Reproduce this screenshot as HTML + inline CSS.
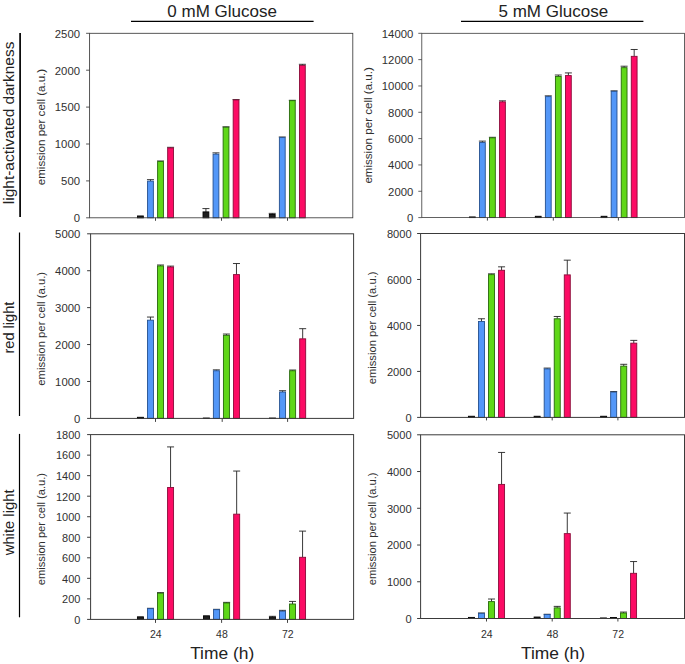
<!DOCTYPE html><html><head><meta charset="utf-8"><style>html,body{margin:0;padding:0;background:#fff}svg{display:block}</style></head><body><svg width="685" height="664" viewBox="0 0 685 664" font-family="Liberation Sans, sans-serif"><rect width="685" height="664" fill="#fff"/><rect x="137.53" y="215.96" width="5.8" height="1.85" fill="#1e1e1e" stroke="#000" stroke-width="0.9"/><path d="M150.47 181.12V179.65M146.97 179.65H153.97" stroke="#222" stroke-width="0.9" fill="none"/><rect x="147.57" y="181.12" width="5.8" height="36.68" fill="#5397f8" stroke="#24508f" stroke-width="0.9"/><path d="M160.53 161.56V160.97M157.03 160.97H164.03" stroke="#222" stroke-width="0.9" fill="none"/><rect x="157.62" y="161.56" width="5.8" height="56.24" fill="#5fd718" stroke="#27680c" stroke-width="0.9"/><path d="M170.57 147.91V147.32M167.07 147.32H174.07" stroke="#222" stroke-width="0.9" fill="none"/><rect x="167.67" y="147.91" width="5.8" height="69.89" fill="#fc0b64" stroke="#8a0a38" stroke-width="0.9"/><path d="M205.93 211.90V208.58M202.43 208.58H209.43" stroke="#222" stroke-width="0.9" fill="none"/><rect x="203.03" y="211.90" width="5.8" height="5.90" fill="#1e1e1e" stroke="#000" stroke-width="0.9"/><path d="M215.97 154.18V152.86M212.47 152.86H219.47" stroke="#222" stroke-width="0.9" fill="none"/><rect x="213.07" y="154.18" width="5.8" height="63.62" fill="#5397f8" stroke="#24508f" stroke-width="0.9"/><path d="M226.03 127.25V126.80M222.53 126.80H229.53" stroke="#222" stroke-width="0.9" fill="none"/><rect x="223.12" y="127.25" width="5.8" height="90.55" fill="#5fd718" stroke="#27680c" stroke-width="0.9"/><path d="M236.07 99.94V99.57M232.57 99.57H239.57" stroke="#222" stroke-width="0.9" fill="none"/><rect x="233.17" y="99.94" width="5.8" height="117.86" fill="#fc0b64" stroke="#8a0a38" stroke-width="0.9"/><path d="M272.23 214.48V213.37M268.73 213.37H275.73" stroke="#222" stroke-width="0.9" fill="none"/><rect x="269.33" y="214.48" width="5.8" height="3.32" fill="#1e1e1e" stroke="#000" stroke-width="0.9"/><path d="M282.28 137.58V136.99M278.78 136.99H285.78" stroke="#222" stroke-width="0.9" fill="none"/><rect x="279.38" y="137.58" width="5.8" height="80.22" fill="#5397f8" stroke="#24508f" stroke-width="0.9"/><path d="M292.32 100.68V100.31M288.82 100.31H295.82" stroke="#222" stroke-width="0.9" fill="none"/><rect x="289.43" y="100.68" width="5.8" height="117.12" fill="#5fd718" stroke="#27680c" stroke-width="0.9"/><path d="M302.38 65.40V64.30M298.88 64.30H305.88" stroke="#222" stroke-width="0.9" fill="none"/><rect x="299.48" y="65.40" width="5.8" height="152.40" fill="#fc0b64" stroke="#8a0a38" stroke-width="0.9"/><rect x="89.6" y="33.3" width="263.20" height="184.50" fill="none" stroke="#3a3a3a" stroke-width="0.85"/><path d="M86.10 217.80H89.6" stroke="#3a3a3a" stroke-width="0.85"/><text x="73.70" y="222.10" font-size="10.8" textLength="6.30" lengthAdjust="spacingAndGlyphs" fill="#303030">0</text><path d="M86.10 180.90H89.6" stroke="#3a3a3a" stroke-width="0.85"/><text x="61.10" y="185.20" font-size="10.8" textLength="18.90" lengthAdjust="spacingAndGlyphs" fill="#303030">500</text><path d="M86.10 144.00H89.6" stroke="#3a3a3a" stroke-width="0.85"/><text x="54.80" y="148.30" font-size="10.8" textLength="25.20" lengthAdjust="spacingAndGlyphs" fill="#303030">1000</text><path d="M86.10 107.10H89.6" stroke="#3a3a3a" stroke-width="0.85"/><text x="54.80" y="111.40" font-size="10.8" textLength="25.20" lengthAdjust="spacingAndGlyphs" fill="#303030">1500</text><path d="M86.10 70.20H89.6" stroke="#3a3a3a" stroke-width="0.85"/><text x="54.80" y="74.50" font-size="10.8" textLength="25.20" lengthAdjust="spacingAndGlyphs" fill="#303030">2000</text><path d="M86.10 33.30H89.6" stroke="#3a3a3a" stroke-width="0.85"/><text x="54.80" y="37.60" font-size="10.8" textLength="25.20" lengthAdjust="spacingAndGlyphs" fill="#303030">2500</text><path d="M155.50 217.8V220.80" stroke="#444" stroke-width="1"/><path d="M221.50 217.8V220.80" stroke="#444" stroke-width="1"/><path d="M287.50 217.8V220.80" stroke="#444" stroke-width="1"/><text transform="translate(45.00 185.20) rotate(-90)" font-size="10.2" textLength="116.4" lengthAdjust="spacingAndGlyphs" fill="#303030">emission per cell (a.u.)</text><rect x="469.43" y="216.94" width="5.8" height="0.66" fill="#1e1e1e" stroke="#000" stroke-width="0.9"/><path d="M482.38 142.56V141.12M478.88 141.12H485.88" stroke="#222" stroke-width="0.9" fill="none"/><rect x="479.48" y="142.56" width="5.8" height="75.04" fill="#5397f8" stroke="#24508f" stroke-width="0.9"/><path d="M492.42 137.82V137.30M488.92 137.30H495.92" stroke="#222" stroke-width="0.9" fill="none"/><rect x="489.52" y="137.82" width="5.8" height="79.78" fill="#5fd718" stroke="#27680c" stroke-width="0.9"/><path d="M502.47 101.89V100.83M498.97 100.83H505.97" stroke="#222" stroke-width="0.9" fill="none"/><rect x="499.57" y="101.89" width="5.8" height="115.71" fill="#fc0b64" stroke="#8a0a38" stroke-width="0.9"/><rect x="535.32" y="216.28" width="5.8" height="1.32" fill="#1e1e1e" stroke="#000" stroke-width="0.9"/><path d="M548.27 96.62V95.83M544.77 95.83H551.77" stroke="#222" stroke-width="0.9" fill="none"/><rect x="545.38" y="96.62" width="5.8" height="120.98" fill="#5397f8" stroke="#24508f" stroke-width="0.9"/><path d="M558.32 76.48V75.03M554.82 75.03H561.82" stroke="#222" stroke-width="0.9" fill="none"/><rect x="555.42" y="76.48" width="5.8" height="141.12" fill="#5fd718" stroke="#27680c" stroke-width="0.9"/><path d="M568.38 75.56V72.92M564.88 72.92H571.88" stroke="#222" stroke-width="0.9" fill="none"/><rect x="565.48" y="75.56" width="5.8" height="142.04" fill="#fc0b64" stroke="#8a0a38" stroke-width="0.9"/><rect x="601.12" y="216.28" width="5.8" height="1.32" fill="#1e1e1e" stroke="#000" stroke-width="0.9"/><path d="M614.08 91.35V90.83M610.58 90.83H617.58" stroke="#222" stroke-width="0.9" fill="none"/><rect x="611.18" y="91.35" width="5.8" height="126.25" fill="#5397f8" stroke="#24508f" stroke-width="0.9"/><path d="M624.12 67.66V66.21M620.62 66.21H627.62" stroke="#222" stroke-width="0.9" fill="none"/><rect x="621.23" y="67.66" width="5.8" height="149.94" fill="#5fd718" stroke="#27680c" stroke-width="0.9"/><path d="M634.18 56.34V49.49M630.68 49.49H637.68" stroke="#222" stroke-width="0.9" fill="none"/><rect x="631.28" y="56.34" width="5.8" height="161.26" fill="#fc0b64" stroke="#8a0a38" stroke-width="0.9"/><rect x="421.8" y="33.3" width="262.70" height="184.30" fill="none" stroke="#3a3a3a" stroke-width="0.8"/><path d="M418.30 217.60H421.8" stroke="#3a3a3a" stroke-width="0.8"/><text x="407.00" y="221.90" font-size="10.8" textLength="6.30" lengthAdjust="spacingAndGlyphs" fill="#303030">0</text><path d="M418.30 191.27H421.8" stroke="#3a3a3a" stroke-width="0.8"/><text x="388.10" y="195.57" font-size="10.8" textLength="25.20" lengthAdjust="spacingAndGlyphs" fill="#303030">2000</text><path d="M418.30 164.94H421.8" stroke="#3a3a3a" stroke-width="0.8"/><text x="388.10" y="169.24" font-size="10.8" textLength="25.20" lengthAdjust="spacingAndGlyphs" fill="#303030">4000</text><path d="M418.30 138.61H421.8" stroke="#3a3a3a" stroke-width="0.8"/><text x="388.10" y="142.91" font-size="10.8" textLength="25.20" lengthAdjust="spacingAndGlyphs" fill="#303030">6000</text><path d="M418.30 112.29H421.8" stroke="#3a3a3a" stroke-width="0.8"/><text x="388.10" y="116.59" font-size="10.8" textLength="25.20" lengthAdjust="spacingAndGlyphs" fill="#303030">8000</text><path d="M418.30 85.96H421.8" stroke="#3a3a3a" stroke-width="0.8"/><text x="381.80" y="90.26" font-size="10.8" textLength="31.50" lengthAdjust="spacingAndGlyphs" fill="#303030">10000</text><path d="M418.30 59.63H421.8" stroke="#3a3a3a" stroke-width="0.8"/><text x="381.80" y="63.93" font-size="10.8" textLength="31.50" lengthAdjust="spacingAndGlyphs" fill="#303030">12000</text><path d="M418.30 33.30H421.8" stroke="#3a3a3a" stroke-width="0.8"/><text x="381.80" y="37.60" font-size="10.8" textLength="31.50" lengthAdjust="spacingAndGlyphs" fill="#303030">14000</text><path d="M487.40 217.6V220.60" stroke="#444" stroke-width="1"/><path d="M553.30 217.6V220.60" stroke="#444" stroke-width="1"/><path d="M618.40 217.6V220.60" stroke="#444" stroke-width="1"/><text transform="translate(372.40 183.60) rotate(-90)" font-size="10.2" textLength="116.4" lengthAdjust="spacingAndGlyphs" fill="#303030">emission per cell (a.u.)</text><rect x="137.43" y="417.29" width="6.0" height="1.11" fill="#1e1e1e" stroke="#000" stroke-width="0.9"/><path d="M150.47 320.19V317.05M146.97 317.05H153.97" stroke="#222" stroke-width="0.9" fill="none"/><rect x="147.47" y="320.19" width="6.0" height="98.21" fill="#5397f8" stroke="#24508f" stroke-width="0.9"/><path d="M160.53 265.92V265.00M157.03 265.00H164.03" stroke="#222" stroke-width="0.9" fill="none"/><rect x="157.53" y="265.92" width="6.0" height="152.48" fill="#5fd718" stroke="#27680c" stroke-width="0.9"/><path d="M170.57 267.03V266.11M167.07 266.11H174.07" stroke="#222" stroke-width="0.9" fill="none"/><rect x="167.57" y="267.03" width="6.0" height="151.37" fill="#fc0b64" stroke="#8a0a38" stroke-width="0.9"/><rect x="203.32" y="418.03" width="6.0" height="0.37" fill="#1e1e1e" stroke="#000" stroke-width="0.9"/><path d="M216.37 370.77V369.85M212.87 369.85H219.87" stroke="#222" stroke-width="0.9" fill="none"/><rect x="213.37" y="370.77" width="6.0" height="47.63" fill="#5397f8" stroke="#24508f" stroke-width="0.9"/><path d="M226.42 335.33V334.04M222.92 334.04H229.92" stroke="#222" stroke-width="0.9" fill="none"/><rect x="223.42" y="335.33" width="6.0" height="83.07" fill="#5fd718" stroke="#27680c" stroke-width="0.9"/><path d="M236.47 274.60V263.52M232.97 263.52H239.97" stroke="#222" stroke-width="0.9" fill="none"/><rect x="233.47" y="274.60" width="6.0" height="143.80" fill="#fc0b64" stroke="#8a0a38" stroke-width="0.9"/><rect x="269.53" y="418.03" width="6.0" height="0.37" fill="#1e1e1e" stroke="#000" stroke-width="0.9"/><path d="M282.58 392.00V390.71M279.08 390.71H286.08" stroke="#222" stroke-width="0.9" fill="none"/><rect x="279.58" y="392.00" width="6.0" height="26.40" fill="#5397f8" stroke="#24508f" stroke-width="0.9"/><path d="M292.62 370.77V370.03M289.12 370.03H296.12" stroke="#222" stroke-width="0.9" fill="none"/><rect x="289.62" y="370.77" width="6.0" height="47.63" fill="#5fd718" stroke="#27680c" stroke-width="0.9"/><path d="M302.68 338.84V328.68M299.18 328.68H306.18" stroke="#222" stroke-width="0.9" fill="none"/><rect x="299.68" y="338.84" width="6.0" height="79.56" fill="#fc0b64" stroke="#8a0a38" stroke-width="0.9"/><rect x="90.6" y="233.8" width="263.00" height="184.60" fill="none" stroke="#3a3a3a" stroke-width="1"/><path d="M87.10 418.40H90.6" stroke="#3a3a3a" stroke-width="1"/><text x="74.00" y="422.70" font-size="10.8" textLength="6.30" lengthAdjust="spacingAndGlyphs" fill="#303030">0</text><path d="M87.10 381.48H90.6" stroke="#3a3a3a" stroke-width="1"/><text x="55.10" y="385.78" font-size="10.8" textLength="25.20" lengthAdjust="spacingAndGlyphs" fill="#303030">1000</text><path d="M87.10 344.56H90.6" stroke="#3a3a3a" stroke-width="1"/><text x="55.10" y="348.86" font-size="10.8" textLength="25.20" lengthAdjust="spacingAndGlyphs" fill="#303030">2000</text><path d="M87.10 307.64H90.6" stroke="#3a3a3a" stroke-width="1"/><text x="55.10" y="311.94" font-size="10.8" textLength="25.20" lengthAdjust="spacingAndGlyphs" fill="#303030">3000</text><path d="M87.10 270.72H90.6" stroke="#3a3a3a" stroke-width="1"/><text x="55.10" y="275.02" font-size="10.8" textLength="25.20" lengthAdjust="spacingAndGlyphs" fill="#303030">4000</text><path d="M87.10 233.80H90.6" stroke="#3a3a3a" stroke-width="1"/><text x="55.10" y="238.10" font-size="10.8" textLength="25.20" lengthAdjust="spacingAndGlyphs" fill="#303030">5000</text><path d="M155.50 418.4V421.90" stroke="#444" stroke-width="1"/><path d="M222.20 418.4V421.90" stroke="#444" stroke-width="1"/><path d="M287.60 418.4V421.90" stroke="#444" stroke-width="1"/><text transform="translate(44.70 385.70) rotate(-90)" font-size="10.2" textLength="113.8" lengthAdjust="spacingAndGlyphs" fill="#303030">emission per cell (a.u.)</text><rect x="468.43" y="416.25" width="6.0" height="1.15" fill="#1e1e1e" stroke="#000" stroke-width="0.9"/><path d="M481.48 321.54V318.78M477.98 318.78H484.98" stroke="#222" stroke-width="0.9" fill="none"/><rect x="478.48" y="321.54" width="6.0" height="95.86" fill="#5397f8" stroke="#24508f" stroke-width="0.9"/><path d="M491.52 274.65V273.84M488.02 273.84H495.02" stroke="#222" stroke-width="0.9" fill="none"/><rect x="488.52" y="274.65" width="6.0" height="142.75" fill="#5fd718" stroke="#27680c" stroke-width="0.9"/><path d="M501.57 270.28V266.83M498.07 266.83H505.07" stroke="#222" stroke-width="0.9" fill="none"/><rect x="498.57" y="270.28" width="6.0" height="147.12" fill="#fc0b64" stroke="#8a0a38" stroke-width="0.9"/><rect x="534.12" y="416.25" width="6.0" height="1.15" fill="#1e1e1e" stroke="#000" stroke-width="0.9"/><path d="M547.18 368.90V368.09M543.68 368.09H550.68" stroke="#222" stroke-width="0.9" fill="none"/><rect x="544.18" y="368.90" width="6.0" height="48.50" fill="#5397f8" stroke="#24508f" stroke-width="0.9"/><path d="M557.23 318.78V316.48M553.73 316.48H560.73" stroke="#222" stroke-width="0.9" fill="none"/><rect x="554.23" y="318.78" width="6.0" height="98.62" fill="#5fd718" stroke="#27680c" stroke-width="0.9"/><path d="M567.28 274.88V260.17M563.78 260.17H570.78" stroke="#222" stroke-width="0.9" fill="none"/><rect x="564.28" y="274.88" width="6.0" height="142.52" fill="#fc0b64" stroke="#8a0a38" stroke-width="0.9"/><rect x="600.62" y="416.25" width="6.0" height="1.15" fill="#1e1e1e" stroke="#000" stroke-width="0.9"/><path d="M613.67 392.11V391.54M610.17 391.54H617.17" stroke="#222" stroke-width="0.9" fill="none"/><rect x="610.67" y="392.11" width="6.0" height="25.29" fill="#5397f8" stroke="#24508f" stroke-width="0.9"/><path d="M623.72 366.14V364.30M620.22 364.30H627.22" stroke="#222" stroke-width="0.9" fill="none"/><rect x="620.72" y="366.14" width="6.0" height="51.26" fill="#5fd718" stroke="#27680c" stroke-width="0.9"/><path d="M633.77 343.15V340.39M630.27 340.39H637.27" stroke="#222" stroke-width="0.9" fill="none"/><rect x="630.77" y="343.15" width="6.0" height="74.25" fill="#fc0b64" stroke="#8a0a38" stroke-width="0.9"/><rect x="420.6" y="233.5" width="263.90" height="183.90" fill="none" stroke="#3a3a3a" stroke-width="1"/><path d="M417.10 417.40H420.6" stroke="#3a3a3a" stroke-width="1"/><text x="405.47" y="421.70" font-size="10.8" textLength="6.18" lengthAdjust="spacingAndGlyphs" fill="#303030">0</text><path d="M417.10 371.42H420.6" stroke="#3a3a3a" stroke-width="1"/><text x="386.93" y="375.72" font-size="10.8" textLength="24.72" lengthAdjust="spacingAndGlyphs" fill="#303030">2000</text><path d="M417.10 325.45H420.6" stroke="#3a3a3a" stroke-width="1"/><text x="386.93" y="329.75" font-size="10.8" textLength="24.72" lengthAdjust="spacingAndGlyphs" fill="#303030">4000</text><path d="M417.10 279.48H420.6" stroke="#3a3a3a" stroke-width="1"/><text x="386.93" y="283.78" font-size="10.8" textLength="24.72" lengthAdjust="spacingAndGlyphs" fill="#303030">6000</text><path d="M417.10 233.50H420.6" stroke="#3a3a3a" stroke-width="1"/><text x="386.93" y="237.80" font-size="10.8" textLength="24.72" lengthAdjust="spacingAndGlyphs" fill="#303030">8000</text><path d="M486.50 417.4V420.40" stroke="#444" stroke-width="1"/><path d="M552.20 417.4V420.40" stroke="#444" stroke-width="1"/><path d="M617.90 417.4V420.40" stroke="#444" stroke-width="1"/><text transform="translate(376.20 384.30) rotate(-90)" font-size="10.2" textLength="112.8" lengthAdjust="spacingAndGlyphs" fill="#303030">emission per cell (a.u.)</text><rect x="137.43" y="616.83" width="6.0" height="2.57" fill="#1e1e1e" stroke="#000" stroke-width="0.9"/><path d="M150.47 608.62V608.31M146.97 608.31H153.97" stroke="#222" stroke-width="0.9" fill="none"/><rect x="147.47" y="608.62" width="6.0" height="10.78" fill="#5397f8" stroke="#24508f" stroke-width="0.9"/><path d="M160.53 593.22V592.60M157.03 592.60H164.03" stroke="#222" stroke-width="0.9" fill="none"/><rect x="157.53" y="593.22" width="6.0" height="26.18" fill="#5fd718" stroke="#27680c" stroke-width="0.9"/><path d="M170.57 487.47V446.92M167.07 446.92H174.07" stroke="#222" stroke-width="0.9" fill="none"/><rect x="167.57" y="487.47" width="6.0" height="131.93" fill="#fc0b64" stroke="#8a0a38" stroke-width="0.9"/><rect x="203.53" y="615.81" width="6.0" height="3.59" fill="#1e1e1e" stroke="#000" stroke-width="0.9"/><path d="M216.57 609.65V609.34M213.07 609.34H220.07" stroke="#222" stroke-width="0.9" fill="none"/><rect x="213.57" y="609.65" width="6.0" height="9.75" fill="#5397f8" stroke="#24508f" stroke-width="0.9"/><path d="M226.62 602.97V602.36M223.12 602.36H230.12" stroke="#222" stroke-width="0.9" fill="none"/><rect x="223.62" y="602.97" width="6.0" height="16.43" fill="#5fd718" stroke="#27680c" stroke-width="0.9"/><path d="M236.67 514.17V471.05M233.17 471.05H240.17" stroke="#222" stroke-width="0.9" fill="none"/><rect x="233.67" y="514.17" width="6.0" height="105.23" fill="#fc0b64" stroke="#8a0a38" stroke-width="0.9"/><path d="M272.43 617.14V616.32M268.93 616.32H275.93" stroke="#222" stroke-width="0.9" fill="none"/><rect x="269.43" y="617.14" width="6.0" height="2.26" fill="#1e1e1e" stroke="#000" stroke-width="0.9"/><path d="M282.48 611.19V610.37M278.98 610.37H285.98" stroke="#222" stroke-width="0.9" fill="none"/><rect x="279.48" y="611.19" width="6.0" height="8.21" fill="#5397f8" stroke="#24508f" stroke-width="0.9"/><path d="M292.52 604.00V601.43M289.02 601.43H296.02" stroke="#222" stroke-width="0.9" fill="none"/><rect x="289.52" y="604.00" width="6.0" height="15.40" fill="#5fd718" stroke="#27680c" stroke-width="0.9"/><path d="M302.57 557.29V531.11M299.07 531.11H306.07" stroke="#222" stroke-width="0.9" fill="none"/><rect x="299.57" y="557.29" width="6.0" height="62.11" fill="#fc0b64" stroke="#8a0a38" stroke-width="0.9"/><rect x="90.6" y="434.6" width="263.00" height="184.80" fill="none" stroke="#3a3a3a" stroke-width="1"/><path d="M87.10 619.40H90.6" stroke="#3a3a3a" stroke-width="1"/><text x="74.30" y="623.70" font-size="10.8" textLength="6.10" lengthAdjust="spacingAndGlyphs" fill="#303030">0</text><path d="M87.10 598.87H90.6" stroke="#3a3a3a" stroke-width="1"/><text x="62.10" y="603.17" font-size="10.8" textLength="18.30" lengthAdjust="spacingAndGlyphs" fill="#303030">200</text><path d="M87.10 578.33H90.6" stroke="#3a3a3a" stroke-width="1"/><text x="62.10" y="582.63" font-size="10.8" textLength="18.30" lengthAdjust="spacingAndGlyphs" fill="#303030">400</text><path d="M87.10 557.80H90.6" stroke="#3a3a3a" stroke-width="1"/><text x="62.10" y="562.10" font-size="10.8" textLength="18.30" lengthAdjust="spacingAndGlyphs" fill="#303030">600</text><path d="M87.10 537.27H90.6" stroke="#3a3a3a" stroke-width="1"/><text x="62.10" y="541.57" font-size="10.8" textLength="18.30" lengthAdjust="spacingAndGlyphs" fill="#303030">800</text><path d="M87.10 516.73H90.6" stroke="#3a3a3a" stroke-width="1"/><text x="56.00" y="521.03" font-size="10.8" textLength="24.40" lengthAdjust="spacingAndGlyphs" fill="#303030">1000</text><path d="M87.10 496.20H90.6" stroke="#3a3a3a" stroke-width="1"/><text x="56.00" y="500.50" font-size="10.8" textLength="24.40" lengthAdjust="spacingAndGlyphs" fill="#303030">1200</text><path d="M87.10 475.67H90.6" stroke="#3a3a3a" stroke-width="1"/><text x="56.00" y="479.97" font-size="10.8" textLength="24.40" lengthAdjust="spacingAndGlyphs" fill="#303030">1400</text><path d="M87.10 455.13H90.6" stroke="#3a3a3a" stroke-width="1"/><text x="56.00" y="459.43" font-size="10.8" textLength="24.40" lengthAdjust="spacingAndGlyphs" fill="#303030">1600</text><path d="M87.10 434.60H90.6" stroke="#3a3a3a" stroke-width="1"/><text x="56.00" y="438.90" font-size="10.8" textLength="24.40" lengthAdjust="spacingAndGlyphs" fill="#303030">1800</text><path d="M155.50 619.4V622.90" stroke="#444" stroke-width="1"/><path d="M221.60 619.4V622.90" stroke="#444" stroke-width="1"/><path d="M287.50 619.4V622.90" stroke="#444" stroke-width="1"/><text transform="translate(44.70 585.20) rotate(-90)" font-size="10.2" textLength="112.2" lengthAdjust="spacingAndGlyphs" fill="#303030">emission per cell (a.u.)</text><rect x="468.43" y="617.40" width="6.0" height="1.10" fill="#1e1e1e" stroke="#000" stroke-width="0.9"/><path d="M481.48 613.36V612.99M477.98 612.99H484.98" stroke="#222" stroke-width="0.9" fill="none"/><rect x="478.48" y="613.36" width="6.0" height="5.14" fill="#5397f8" stroke="#24508f" stroke-width="0.9"/><path d="M491.52 601.60V599.03M488.02 599.03H495.02" stroke="#222" stroke-width="0.9" fill="none"/><rect x="488.52" y="601.60" width="6.0" height="16.90" fill="#5fd718" stroke="#27680c" stroke-width="0.9"/><path d="M501.57 484.40V452.44M498.07 452.44H505.07" stroke="#222" stroke-width="0.9" fill="none"/><rect x="498.57" y="484.40" width="6.0" height="134.10" fill="#fc0b64" stroke="#8a0a38" stroke-width="0.9"/><rect x="534.12" y="617.03" width="6.0" height="1.47" fill="#1e1e1e" stroke="#000" stroke-width="0.9"/><path d="M547.18 614.46V614.27M543.68 614.27H550.68" stroke="#222" stroke-width="0.9" fill="none"/><rect x="544.18" y="614.46" width="6.0" height="4.04" fill="#5397f8" stroke="#24508f" stroke-width="0.9"/><path d="M557.23 607.85V606.38M553.73 606.38H560.73" stroke="#222" stroke-width="0.9" fill="none"/><rect x="554.23" y="607.85" width="6.0" height="10.65" fill="#5fd718" stroke="#27680c" stroke-width="0.9"/><path d="M567.28 533.63V513.06M563.78 513.06H570.78" stroke="#222" stroke-width="0.9" fill="none"/><rect x="564.28" y="533.63" width="6.0" height="84.87" fill="#fc0b64" stroke="#8a0a38" stroke-width="0.9"/><rect x="600.42" y="617.95" width="6.0" height="0.55" fill="#1e1e1e" stroke="#000" stroke-width="0.9"/><rect x="610.48" y="617.47" width="6.0" height="1.03" fill="#1e1e1e" stroke="#000" stroke-width="0.9"/><path d="M623.52 612.99V612.07M620.02 612.07H627.02" stroke="#222" stroke-width="0.9" fill="none"/><rect x="620.52" y="612.99" width="6.0" height="5.51" fill="#5fd718" stroke="#27680c" stroke-width="0.9"/><path d="M633.58 573.31V561.55M630.08 561.55H637.08" stroke="#222" stroke-width="0.9" fill="none"/><rect x="630.58" y="573.31" width="6.0" height="45.19" fill="#fc0b64" stroke="#8a0a38" stroke-width="0.9"/><rect x="420.6" y="434.8" width="263.90" height="183.70" fill="none" stroke="#3a3a3a" stroke-width="1"/><path d="M417.10 618.50H420.6" stroke="#3a3a3a" stroke-width="1"/><text x="405.47" y="622.80" font-size="10.8" textLength="6.18" lengthAdjust="spacingAndGlyphs" fill="#303030">0</text><path d="M417.10 581.76H420.6" stroke="#3a3a3a" stroke-width="1"/><text x="386.93" y="586.06" font-size="10.8" textLength="24.72" lengthAdjust="spacingAndGlyphs" fill="#303030">1000</text><path d="M417.10 545.02H420.6" stroke="#3a3a3a" stroke-width="1"/><text x="386.93" y="549.32" font-size="10.8" textLength="24.72" lengthAdjust="spacingAndGlyphs" fill="#303030">2000</text><path d="M417.10 508.28H420.6" stroke="#3a3a3a" stroke-width="1"/><text x="386.93" y="512.58" font-size="10.8" textLength="24.72" lengthAdjust="spacingAndGlyphs" fill="#303030">3000</text><path d="M417.10 471.54H420.6" stroke="#3a3a3a" stroke-width="1"/><text x="386.93" y="475.84" font-size="10.8" textLength="24.72" lengthAdjust="spacingAndGlyphs" fill="#303030">4000</text><path d="M417.10 434.80H420.6" stroke="#3a3a3a" stroke-width="1"/><text x="386.93" y="439.10" font-size="10.8" textLength="24.72" lengthAdjust="spacingAndGlyphs" fill="#303030">5000</text><path d="M486.50 618.5V621.50" stroke="#444" stroke-width="1"/><path d="M552.20 618.5V621.50" stroke="#444" stroke-width="1"/><path d="M617.90 618.5V621.50" stroke="#444" stroke-width="1"/><text transform="translate(376.20 585.20) rotate(-90)" font-size="10.2" textLength="112.8" lengthAdjust="spacingAndGlyphs" fill="#303030">emission per cell (a.u.)</text><text x="155.80" y="638.4" font-size="10.5" text-anchor="middle" fill="#303030">24</text><text x="221.90" y="638.4" font-size="10.5" text-anchor="middle" fill="#303030">48</text><text x="287.80" y="638.4" font-size="10.5" text-anchor="middle" fill="#303030">72</text><text x="486.80" y="638.4" font-size="10.5" text-anchor="middle" fill="#303030">24</text><text x="552.50" y="638.4" font-size="10.5" text-anchor="middle" fill="#303030">48</text><text x="618.20" y="638.4" font-size="10.5" text-anchor="middle" fill="#303030">72</text><text x="222.2" y="658.8" font-size="17.4" text-anchor="middle" fill="#222">Time (h)</text><text x="553" y="658.8" font-size="17.4" text-anchor="middle" fill="#222">Time (h)</text><text x="222.1" y="16.8" font-size="17" text-anchor="middle" fill="#222">0 mM Glucose</text><text x="553.3" y="16.8" font-size="17" text-anchor="middle" fill="#222">5 mM Glucose</text><path d="M131 21.4H313.6M461 21.4H643.4" stroke="#000" stroke-width="1.4"/><path d="M20.1 33.1V217.0" stroke="#000" stroke-width="1.7"/><text transform="translate(14.2 204.20) rotate(-90)" font-size="14.9" textLength="162.6" lengthAdjust="spacingAndGlyphs" fill="#222">light-activated darkness</text><path d="M19.5 232.5V416.0" stroke="#000" stroke-width="1.2"/><text transform="translate(13.8 327.60) rotate(-90)" font-size="14.6" text-anchor="middle" fill="#222">red light</text><path d="M19.5 433.9V617.3" stroke="#000" stroke-width="1.2"/><text transform="translate(13.8 522.40) rotate(-90)" font-size="14.8" text-anchor="middle" fill="#222">white light</text></svg></body></html>
